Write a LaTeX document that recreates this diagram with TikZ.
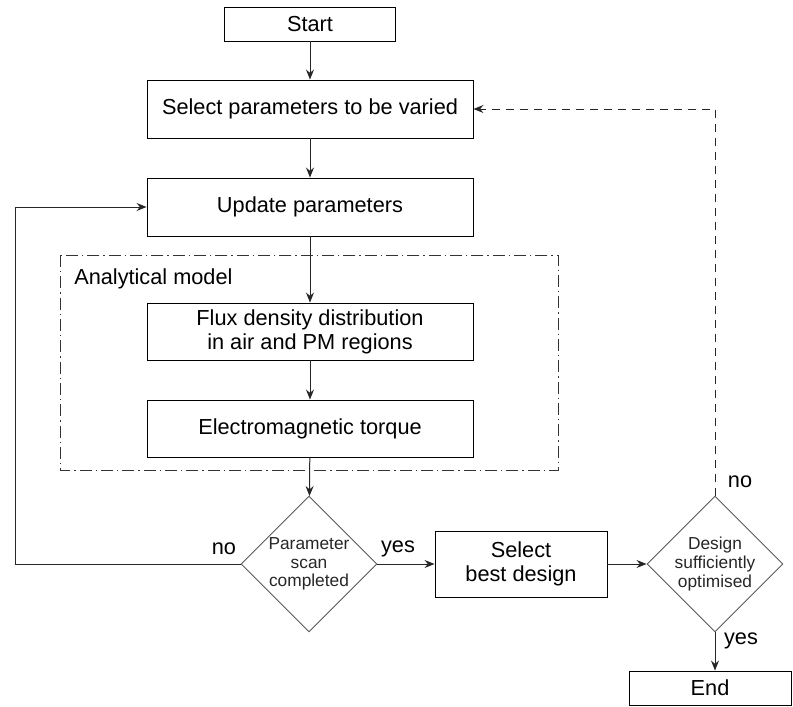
\documentclass[tikz,border=0pt]{standalone}
\usepackage{fontspec}
\setmainfont{Liberation Sans}
\usetikzlibrary{shapes.geometric,arrows.meta}
\begin{document}
\begin{tikzpicture}[x=0.75pt,y=-0.75pt,
  font=\fontsize{16.3}{18}\selectfont,
  box/.style={draw=black,line width=0.7pt,align=center,inner sep=0pt,minimum width=244.5pt,minimum height=43.5pt},
  dec/.style={draw=black!65,line width=0.7pt,diamond,aspect=1,inner sep=0pt,minimum width=102pt,minimum height=102pt,align=center,font=\fontsize{13}{14}\selectfont,text=black!85},
  conn/.style={draw=black!85,line width=0.75pt,-{Stealth[length=7.5pt,width=6pt,inset=2.5pt]}},
  lbl/.style={inner sep=0pt}]
\useasboundingbox (0,0) rectangle (793,707);
\node[box,minimum width=128.25pt,minimum height=25.5pt] (start) at (310,24) {Start};
\node[box] (sel) at (310,109) {Select parameters to be varied};
\node[box] (upd) at (310,207) {Update parameters};
\draw[black!80,line width=0.75pt,dash pattern=on 9pt off 3pt on 1pt off 3pt] (60,255) rectangle (558,470);
\node[lbl,anchor=west] (am) at (74,279) {Analytical model};
\node[box,minimum height=42.75pt] (flux) at (310,331.5) {Flux density distribution\\in air and PM regions};
\node[box,minimum height=42.75pt] (torq) at (310,428.5) {Electromagnetic torque};
\node[dec] (d1) at (309,564) {Parameter\\scan\\completed};
\node[box,minimum width=129pt,minimum height=49.5pt] (best) at (521,564) {Select\\best design};
\node[dec] (d2) at (715,564) {Design\\sufficiently\\optimised};
\node[box,minimum width=121.5pt,minimum height=25.5pt] (end) at (710,688) {End};
\coordinate (loopL) at (15,564);
\coordinate (dashC) at (715,109);
\draw[conn] (start) -- (sel);
\draw[conn] (sel) -- (upd);
\draw[conn] (upd) -- (flux);
\draw[conn] (flux) -- (torq);
\draw[conn] (torq) -- (d1);
\draw[conn] (d1.east) -- (best.west);
\draw[conn] (best.east) -- (d2.west);
\draw[conn] (d2.south) -- (d2.south |- end.north);
\draw[conn] (d1.west) -- (loopL) |- (upd.west);
\draw[conn,dash pattern=on 6pt off 4.5pt] (d2.north) -- (dashC) -- (sel.east);
\node[lbl] (no1) at (224,549) {no};
\node[lbl] (yes1) at (398,549) {yes};
\node[lbl] (no2) at (740,482) {no};
\node[lbl] (yes2) at (741,641) {yes};
\end{tikzpicture}
\end{document}
